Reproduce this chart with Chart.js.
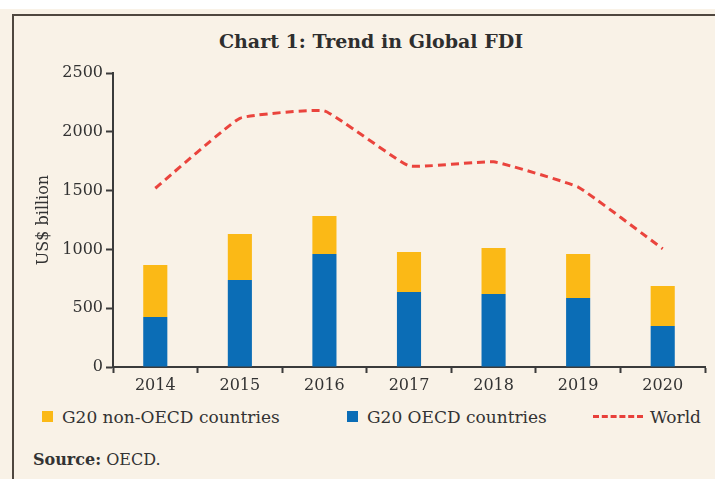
<!DOCTYPE html>
<html>
<head>
<meta charset="utf-8">
<script src="https://cdn.jsdelivr.net/npm/chart.js@4"></script>
<style>
  html, body { margin: 0; padding: 0; background: #fff; }
  body { width: 715px; height: 479px; position: relative; overflow: hidden; font-family: "DejaVu Serif", serif; color: #333; }
  #fondo { position: absolute; left: 0; top: 9px; width: 715px; height: 470px; background: #f9f2e7; }
  #marco { position: absolute; left: 12px; top: 14px; width: 800px; height: 600px; border-top: 2px solid #4f473f; border-left: 2px solid #4f473f; }
  #titulo { position: absolute; left: 0; width: 742px; top: 30px; text-align: center; font-weight: bold; font-size: 19px; color: #2e2e2e; }
  #caja { position: absolute; left: 0; top: 0; width: 715px; height: 400px; }
  #leyenda { position: absolute; top: 406px; left: 0; width: 715px; height: 22px; font-size: 17px; color: #333; }
  .item { position: absolute; top: 0; height: 22px; line-height: 22px; white-space: nowrap; }
  .cuadro { position: absolute; top: 5px; width: 11px; height: 11px; }
  .guion { position: absolute; top: 9px; width: 50px; height: 0; border-top: 3px dashed #e8403a; }
  #fuente { position: absolute; left: 33px; top: 450px; font-size: 16px; color: #333; }
</style>
</head>
<body>
<div id="fondo"></div>
<div id="marco"></div>
<div id="titulo">Chart 1: Trend in Global FDI</div>
<div id="caja"><canvas id="grafico"></canvas></div>
<div id="leyenda"></div>
<div id="fuente"><b>Source:</b> OECD.</div>
<script>
const ANOS = ['2014', '2015', '2016', '2017', '2018', '2019', '2020'];
const G20_OECD = [425, 740, 960, 637, 620, 586, 349];
const G20_NAO_OECD = [442, 391, 324, 340, 392, 374, 340];
const MUNDO = [1520, 2115, 2178, 1710, 1745, 1530, 1005];
const TICKS_Y = [0, 500, 1000, 1500, 2000, 2500];

const CORES = { azul: '#0b6db6', amarelo: '#fbb916', vermelho: '#ea443d', eixo: '#3b3b3b', texto: '#333' };
const FONTE = 'DejaVu Serif';

Chart.defaults.font.family = FONTE;
Chart.defaults.color = CORES.texto;

new Chart(document.getElementById('grafico'), {
  type: 'bar',
  data: {
    labels: ANOS,
    datasets: [
      { label: 'G20 OECD countries', data: G20_OECD, backgroundColor: CORES.azul, stack: 'g20', order: 1,
        barPercentage: 0.285, categoryPercentage: 1 },
      { label: 'G20 non-OECD countries', data: G20_NAO_OECD, backgroundColor: CORES.amarelo, stack: 'g20', order: 1,
        barPercentage: 0.285, categoryPercentage: 1 },
      { type: 'line', label: 'World', data: MUNDO, borderColor: CORES.vermelho, borderWidth: 3,
        borderDash: [8, 5], tension: 0.1, pointRadius: 0, fill: false, stack: 'mundo', order: 0 }
    ]
  },
  options: {
    responsive: true, maintainAspectRatio: false, animation: false,
    layout: { padding: { left: 30, top: 73, right: 10, bottom: 0 } },
    plugins: { legend: { display: false }, tooltip: { enabled: false } },
    scales: {
      x: {
        stacked: true,
        afterFit: s => { s.height = 33; },
        grid: { display: true, drawOnChartArea: false, drawTicks: true, tickLength: 6, tickWidth: 2, tickColor: CORES.eixo, offset: true },
        border: { color: CORES.eixo, width: 2 },
        ticks: { padding: 3, font: { size: 16 }, color: CORES.texto }
      },
      y: {
        stacked: true, min: 0, max: 2500,
        afterBuildTicks: s => { s.ticks = TICKS_Y.map(v => ({ value: v })); },
        afterFit: s => { s.width = 83; },
        title: { display: true, text: 'US$ billion', font: { size: 16 }, color: CORES.texto, padding: { top: 4, bottom: 0 } },
        grid: { display: true, drawOnChartArea: false, drawTicks: true, tickLength: 7, tickWidth: 2, tickColor: CORES.eixo },
        border: { color: CORES.eixo, width: 2 },
        ticks: { padding: 3, font: { size: 16 }, color: CORES.texto, callback: v => String(v) }
      }
    }
  }
});

// legenda em HTML, posicionada como no original
const LEGENDA = [
  { texto: 'G20 non-OECD countries', cor: CORES.amarelo, x: 42, tipo: 'cuadro' },
  { texto: 'G20 OECD countries', cor: CORES.azul, x: 347, tipo: 'cuadro' },
  { texto: 'World', cor: CORES.vermelho, x: 593, tipo: 'guion' }
];
const leyenda = document.getElementById('leyenda');
for (const it of LEGENDA) {
  const marca = document.createElement('div');
  marca.className = it.tipo;
  marca.style.left = it.x + 'px';
  if (it.tipo === 'cuadro') marca.style.background = it.cor;
  leyenda.appendChild(marca);
  const txt = document.createElement('div');
  txt.className = 'item';
  txt.style.left = (it.x + (it.tipo === 'cuadro' ? 20 : 57)) + 'px';
  txt.textContent = it.texto;
  leyenda.appendChild(txt);
}
</script>
</body>
</html>
